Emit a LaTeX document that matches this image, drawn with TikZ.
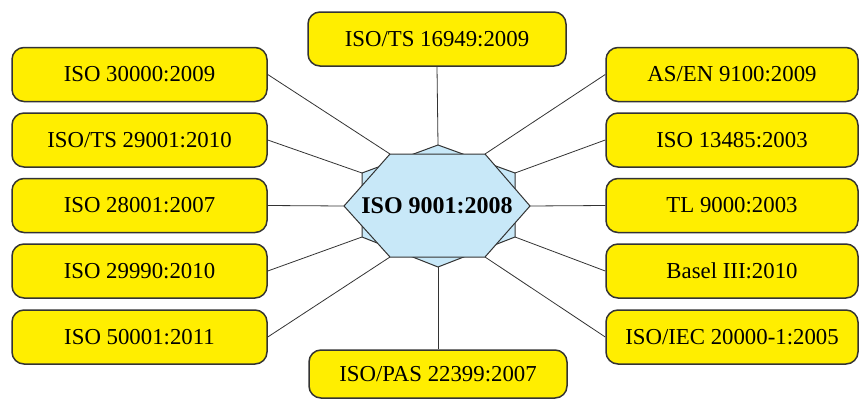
\documentclass[tikz,border=0pt]{standalone}
\usepackage{fontspec}
\setmainfont{Liberation Serif}
\definecolor{boxyellow}{HTML}{FFEE00}
\definecolor{hexblue}{HTML}{C8E8F8}
\definecolor{edgegray}{HTML}{333333}
\tikzset{
  stdbox/.style={draw=edgegray, fill=boxyellow, line width=1.5pt, rounded corners=12pt,
    minimum width=255pt, minimum height=54pt, font=\fontsize{22.8}{24}\selectfont},
  hexface/.style={draw=edgegray, fill=hexblue, line width=1pt, line join=miter},
  link/.style={draw=edgegray, line width=0.8pt}
}

\begin{document}
\begin{tikzpicture}[x=1pt, y=-1pt]
  \useasboundingbox (0,0) rectangle (859,399);

  % Left column
  \foreach \i/\y/\t in {1/74.5/{ISO 30000:2009}, 2/140/{ISO/TS 29001:2010}, 3/205.5/{ISO 28001:2007},
                        4/271/{ISO 29990:2010}, 5/337/{ISO 50001:2011}}
    \node[stdbox] (left\i) at (139.5,\y) {\t};

  % Right column
  \foreach \i/\y/\t in {1/74.5/{AS/EN 9100:2009}, 2/140/{ISO 13485:2003}, 3/205.5/{TL 9000:2003},
                        4/271/{Basel III:2010}, 5/337/{ISO/IEC 20000-1:2005}}
    \node[stdbox, minimum width=252pt] (right\i) at (732,\y) {\t};

  % Top and bottom
  \node[stdbox, minimum width=258pt] (top) at (437,39) {ISO/TS 16949:2009};
  \node[stdbox, minimum width=258pt, minimum height=48pt] (bottom) at (438,374) {ISO/PAS 22399:2007};

  % Back hexagon (pointy top)
  \coordinate (pt) at (438,145);
  \coordinate (pur) at (515,173);
  \coordinate (plr) at (515,237);
  \coordinate (pb) at (438,267);
  \coordinate (pll) at (362,237);
  \coordinate (pul) at (362,173);
  \path[hexface] (pt) -- (pur) -- (plr) -- (pb) -- (pll) -- (pul) -- cycle;

  % Front hexagon (flat top)
  \coordinate (fl) at (344,206);
  \coordinate (ful) at (390,154);
  \coordinate (fur) at (485,154);
  \coordinate (fr) at (530,206);
  \coordinate (flr) at (485,257);
  \coordinate (fll) at (390,257);
  \path[hexface] (fl) -- (ful) -- (fur) -- (fr) -- (flr) -- (fll) -- cycle;

  % Centre label
  \node[font=\fontsize{24}{26}\selectfont\bfseries] (iso) at (437,206) {ISO 9001:2008};

  % Connect nodes
  \draw[link] (left1.east) -- (ful);
  \draw[link] (left2.east) -- (pul);
  \draw[link] (left3.east) -- (fl);
  \draw[link] (left4.east) -- (pll);
  \draw[link] (left5.east) -- (fll);
  \draw[link] (right1.west) -- (fur);
  \draw[link] (right2.west) -- (pur);
  \draw[link] (right3.west) -- (fr);
  \draw[link] (right4.west) -- (plr);
  \draw[link] (right5.west) -- (flr);
  \draw[link] (top.south) -- (pt);
  \draw[link] (bottom.north) -- (pb);
\end{tikzpicture}
\end{document}
